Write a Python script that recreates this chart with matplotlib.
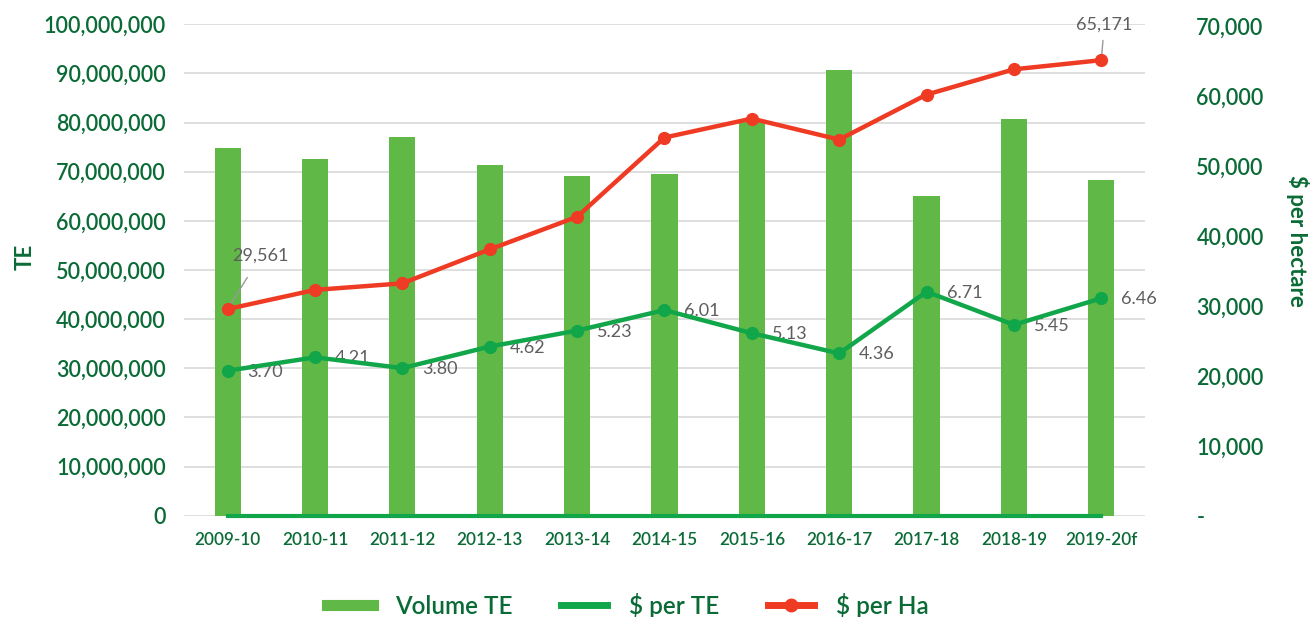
import matplotlib
matplotlib.use('Agg')
import matplotlib.pyplot as plt
import numpy as np
from matplotlib.ticker import FuncFormatter
from matplotlib.lines import Line2D

# ---- data ----
seasons = ['2009-10', '2010-11', '2011-12', '2012-13', '2013-14', '2014-15',
           '2015-16', '2016-17', '2017-18', '2018-19', '2019-20f']
volume_te = [74.9e6, 72.6e6, 77.0e6, 71.3e6, 69.2e6, 69.5e6,
             80.1e6, 90.7e6, 65.0e6, 80.8e6, 68.4e6]
price_per_te = [3.70, 4.21, 3.80, 4.62, 5.23, 6.01, 5.13, 4.36, 6.71, 5.45, 6.46]
price_per_ha = [29561, 32300, 33240, 38100, 42760, 54100, 56810, 53810,
                60240, 63860, 65171]
left_ticks = list(range(0, 100_000_001, 10_000_000))
right_ticks = list(range(0, 70_001, 10_000))

# ---- style ----
DARK_GREEN = '#0a6b36'
BAR_GREEN = '#60b946'
LINE_GREEN = '#12a64a'
RED = '#ef3b24'
GRAY_TXT = '#5e5e5e'
FONT = ['Lato', 'DejaVu Sans']
plt.rcParams['font.family'] = FONT

fig = plt.figure(figsize=(13.12, 6.17), dpi=100)
fig.patch.set_facecolor('white')
ax = fig.add_axes([0.1402, 0.1642, 0.7325, 0.7964])
x = np.arange(len(seasons))

# bars
ax.bar(x, volume_te, width=0.30, color=BAR_GREEN, zorder=2)
ax.set_xlim(-0.5, len(seasons) - 0.5)
ax.set_ylim(0, 100_000_000)
ax.set_yticks(left_ticks)
ax.yaxis.set_major_formatter(FuncFormatter(lambda v, p: f'{v:,.0f}'))
ax.grid(axis='y', color='#d9d9d9', linewidth=1.2, zorder=0)
ax.set_axisbelow(True)
for s in ax.spines.values():
    s.set_visible(False)
ax.tick_params(axis='both', length=0)
ax.tick_params(axis='y', pad=13, labelsize=15.5, labelcolor=DARK_GREEN)
ax.tick_params(axis='x', pad=12, labelsize=12.3, labelcolor=DARK_GREEN)
ax.set_xticks(x)
ax.set_xticklabels(seasons)
for lab in ax.get_yticklabels() + ax.get_xticklabels():
    lab.set_fontweight('semibold')

# $ per TE baseline series along the axis
ax.plot(x, np.zeros(len(x)), color=LINE_GREEN, lw=3, zorder=3, clip_on=False)

# right axis: $ per Ha
ax2 = ax.twinx()
ax2.set_ylim(0, 70_300)
ax2.set_yticks(right_ticks)
ax2.yaxis.set_major_formatter(FuncFormatter(lambda v, p: '-' if v == 0 else f'{v:,.0f}'))
for s in ax2.spines.values():
    s.set_visible(False)
ax2.tick_params(axis='y', length=0, pad=37, labelsize=15.5, labelcolor=DARK_GREEN)
for lab in ax2.get_yticklabels():
    lab.set_fontweight('semibold')
ax2.plot(x, price_per_ha, color=RED, lw=3.2, marker='o', ms=8.5, zorder=5)

lbl_kw = dict(color=GRAY_TXT, fontsize=13, fontweight='normal')
ax2.annotate(f'{price_per_ha[0]:,}', xy=(x[0], price_per_ha[0]),
             xytext=(33, 53), textcoords='offset pixels', ha='center', va='center',
             arrowprops=dict(arrowstyle='-', color='#999999', lw=1,
                             shrinkA=9, shrinkB=2), **lbl_kw)
ax2.annotate(f'{price_per_ha[-1]:,}', xy=(x[-1], price_per_ha[-1]),
             xytext=(3, 36), textcoords='offset pixels', ha='center', va='center',
             arrowprops=dict(arrowstyle='-', color='#999999', lw=1,
                             shrinkA=4, shrinkB=2), **lbl_kw)

# hidden axis: $ per TE
ax3 = ax.twinx()
ax3.set_ylim(-1.824, 16.90)
ax3.axis('off')
ax3.plot(x, price_per_te, color=LINE_GREEN, lw=3.2, marker='o', ms=8.5, zorder=5)
for xi, v in zip(x, price_per_te):
    ax3.annotate(f'{v:.2f}', xy=(xi, v), xytext=(20, -1), textcoords='offset pixels',
                 ha='left', va='center', **lbl_kw)

# axis titles
fig.text(25 / 1312, 1 - 257 / 617, 'TE', rotation=90, ha='center', va='center',
         color=DARK_GREEN, fontsize=16, fontweight='bold')
fig.text(1298 / 1312, 1 - 241 / 617, '$ per hectare', rotation=-90, ha='center',
         va='center', color=DARK_GREEN, fontsize=16, fontweight='bold')

# legend
handles = [Line2D([], [], color=BAR_GREEN, lw=8),
           Line2D([], [], color=LINE_GREEN, lw=5),
           Line2D([], [], color=RED, lw=5, marker='o', ms=9)]
leg = fig.legend(handles, ['Volume TE', '$ per TE', '$ per Ha'], loc='center',
                 bbox_to_anchor=(628 / 1312, 1 - 605 / 617), ncol=3, frameon=False,
                 handlelength=1.9, handletextpad=0.9, columnspacing=2.0,
                 prop={'size': 17.5, 'weight': 'semibold'})
for t in leg.get_texts():
    t.set_color(DARK_GREEN)

fig.savefig('out.png', dpi=100, facecolor='white')
